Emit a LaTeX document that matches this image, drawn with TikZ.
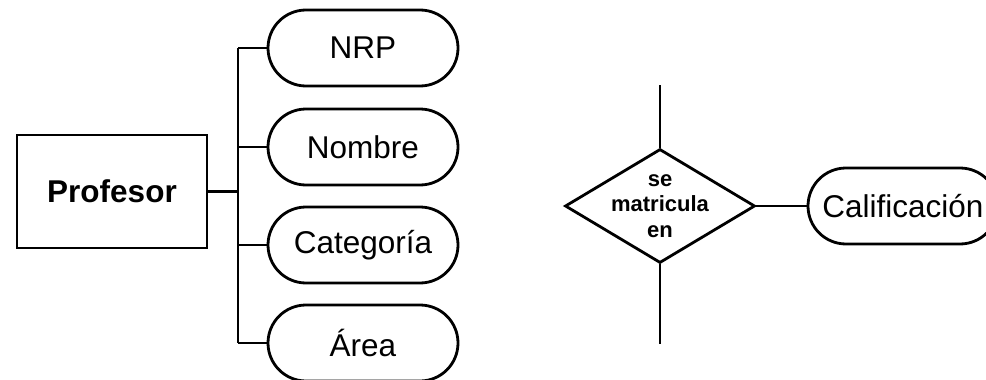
\documentclass[tikz,border=0pt]{standalone}
\usepackage{fontspec}
\setmainfont{Liberation Sans}
\usetikzlibrary{shapes.geometric}
\begin{document}
\begin{tikzpicture}[x=1pt,y=-1pt,
  line width=2.8pt,
  ent/.style={draw, rectangle, minimum width=190pt, minimum height=113pt, inner sep=0pt, font=\fontsize{31.5}{36}\selectfont\bfseries},
  attr/.style={draw, rectangle, rounded corners=38pt, minimum width=190pt, minimum height=76pt, inner sep=0pt, font=\fontsize{31.5}{36}\selectfont},
  rel/.style={draw, diamond, minimum width=190pt, minimum height=114pt, inner sep=0pt},
  reltext/.style={align=center, inner sep=0pt, font=\fontsize{22}{25.5}\selectfont\bfseries}
]
\useasboundingbox (0,0) rectangle (986,380);
\begin{scope}
\clip (0,0) rectangle (986,380);
% Entity and attributes
\node[ent] (prof) at (112,191.5) {Profesor};
\node[attr] (nrp) at (363,48) {NRP};
\node[attr] (nom) at (363,147) {Nombre};
\node[attr] (cat) at (363,245) {Categoría};
\node[attr] (area) at (363,343) {Área};
\coordinate (bus) at (238,0);
\draw (prof.east) -- (bus|-prof.east);
\draw (bus|-nrp.west) -- (bus|-area.west);
\draw (bus|-nrp.west) -- (nrp.west);
\draw (bus|-nom.west) -- (nom.west);
\draw (bus|-cat.west) -- (cat.west);
\draw (bus|-area.west) -- (area.west);
% Relationship
\node[rel] (rel) at (660,206) {};
\node[reltext] (reltxt) at (rel.center) {se\\matricula\\en};
\node[attr] (cal) at (903,206) {Calificación};
\coordinate (reltop) at (660,85);
\coordinate (relbot) at (660,344);
\draw (reltop) -- (rel.north);
\draw (rel.south) -- (relbot);
\draw (rel.east) -- (cal.west);
\end{scope}
\end{tikzpicture}
\end{document}
